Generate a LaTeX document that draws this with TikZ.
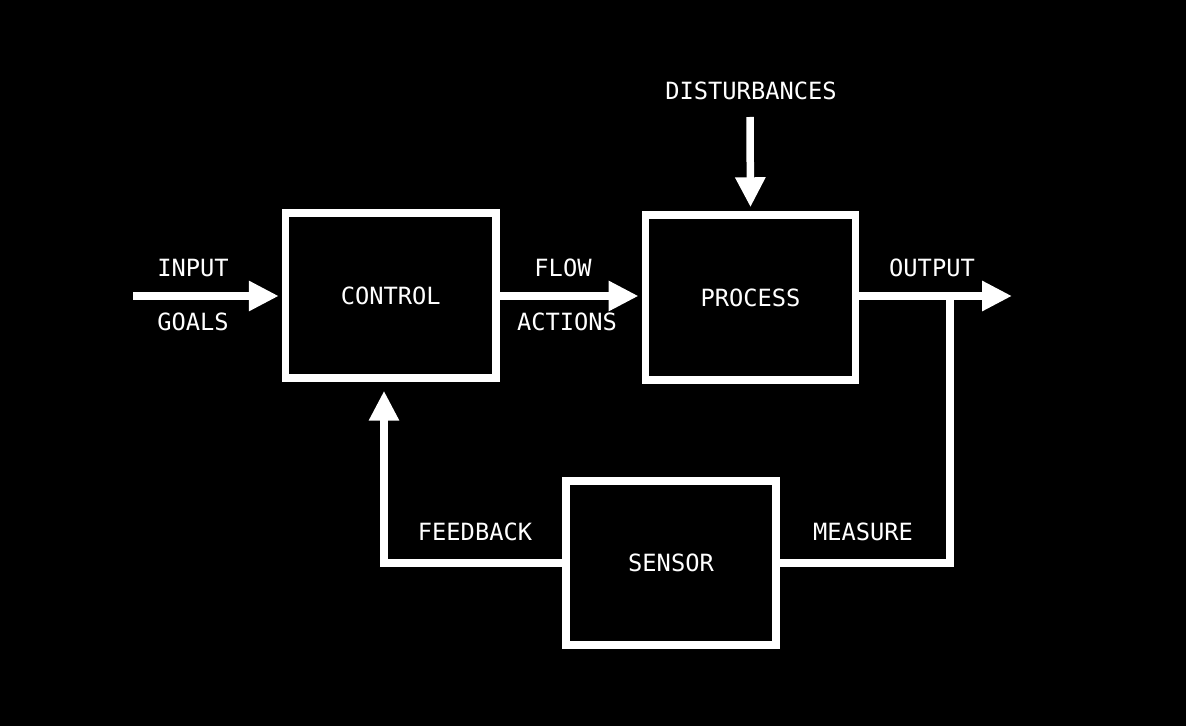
\documentclass[tikz,border=0pt]{standalone}
\usepackage{fontspec}
\newfontfamily\pixfont{DejaVu Sans Mono}
\usetikzlibrary{arrows.meta,positioning}
\begin{document}
\begin{tikzpicture}[x=0.02cm,y=-0.02cm]
		\tikzset{
			every node/.style={font=\pixfont\fontsize{13.5}{15}\selectfont,text=white},
			% khoi
			khoi/.style={draw=white,line width=0.15cm,fill=black,minimum width=4.21cm,minimum height=3.3cm},
			% mui ten
			muiten/.style={draw=white,line width=0.15cm,-{Triangle[length=0.6cm,width=0.57cm]}},
			% day noi
			daynoi/.style={draw=white,line width=0.15cm},
		}
		\fill[black](0,0)rectangle(1186,726);
		\useasboundingbox (0,0)rectangle(1186,726);
		%
		\node[khoi](control)at(390.75,295.5){CONTROL};
		\node[khoi](process)at(750.5,297.5){PROCESS};
		\node[khoi,minimum width=4.2cm,minimum height=3.28cm](sensor)at(671,563){SENSOR};
		%
		\coordinate(in)at(133,296);
		\coordinate(out)at(1012,296);
		\coordinate(dist)at(750,117);
		\coordinate(meas)at(950,296);
		%
		\draw[muiten,shorten >=0.06cm](in)--(control.west|-in);
		\draw[muiten,shorten >=0.06cm](control.east|-in)--(process.west|-in);
		\draw[muiten](process.east|-out)--(out);
		\draw[muiten,shorten >=0.08cm](dist)--(process.north);
		\draw[muiten,shorten >=0.18cm](sensor.west)-|([xshift=-0.135cm]control.south);
		\draw[daynoi](sensor.east)-|(meas);
		%
		\node(input)at(193,268){INPUT};
		\node(goals)at(193,322){GOALS};
		\node(flow)at(563,268){FLOW};
		\node(actions)at(567,322){ACTIONS};
		\node(output)at(932,268){OUTPUT};
		\node(disturb)at(751,91){DISTURBANCES};
		\node(feedback)at(475,532){FEEDBACK};
		\node(measure)at(863,532){MEASURE};
\end{tikzpicture}
\end{document}
